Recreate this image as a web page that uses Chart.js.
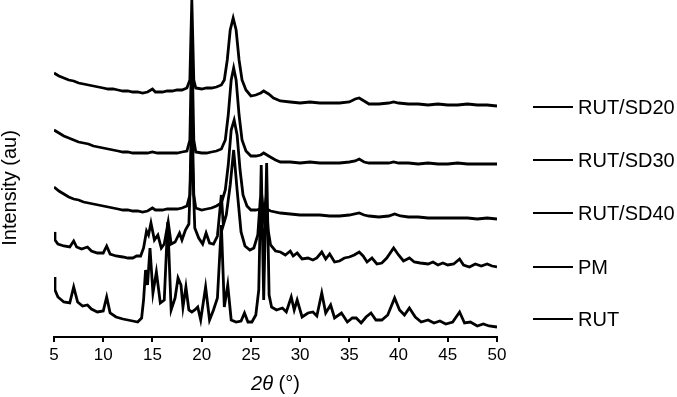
<!DOCTYPE html>
<html>
<head>
<meta charset="utf-8">
<script src="https://cdn.jsdelivr.net/npm/chart.js@4.4.1/dist/chart.umd.min.js"></script>
<style>
  html, body { margin: 0; padding: 0; background: #fff; }
  canvas { display: block; }
</style>
</head>
<body>
<canvas id="xrd" width="677" height="397"></canvas>
<script>
// series names, top to bottom
const seriesNames = ['RUT/SD20', 'RUT/SD30', 'RUT/SD40', 'PM', 'RUT'];
const xTicks = [5, 10, 15, 20, 25, 30, 35, 40, 45, 50];

// RUT/SD20
const sd20Angle = [5, 5.5, 6, 6.5, 7, 7.5, 8, 8.5, 9, 9.5, 10, 10.5, 11, 11.5, 12, 12.5, 13, 13.5, 14, 14.5, 15, 15.3, 16, 16.5, 17, 17.5, 18, 18.5, 18.8, 19.0, 19.2, 19.4, 20, 20.5, 21, 21.5, 22, 22.3, 22.6, 22.9, 23.2, 23.5, 23.8, 24.1, 24.5, 25, 25.5, 26, 26.3, 26.8, 27.3, 28, 29, 30, 31, 32, 33, 34, 35, 35.6, 36, 36.5, 37, 38, 39, 39.5, 40, 41, 42, 43, 44, 45, 46, 47, 48, 49, 50];
const sd20Int = [264, 261, 259, 257, 256, 254, 253, 252, 251, 250, 249, 248, 248, 247, 246, 246, 245, 245, 244, 245, 248, 245, 245, 246, 246, 247, 247, 249, 257, 337, 257, 249, 248, 249, 249, 250, 252, 257, 277, 307, 319, 307, 277, 257, 247, 241, 242, 244, 246, 243, 239, 236, 235, 234, 235, 234, 234, 234, 235, 238, 239, 236, 233, 233, 234, 235, 234, 233, 233, 232, 233, 232, 232, 233, 232, 232, 231];

// RUT/SD30
const sd30Angle = [5, 5.5, 6, 6.5, 7, 7.5, 8, 8.5, 9, 9.5, 10, 10.5, 11, 11.5, 12, 12.5, 13, 13.5, 14, 14.5, 15, 15.5, 16, 16.5, 17, 17.5, 18, 18.5, 18.8, 19.0, 19.2, 19.4, 20, 20.5, 21, 21.5, 22, 22.4, 22.7, 23.0, 23.25, 23.5, 23.8, 24.1, 24.5, 25, 25.5, 26, 26.3, 26.8, 27.5, 28, 29, 30, 31, 32, 33, 34, 35, 35.6, 36, 36.5, 37, 38, 39, 39.5, 40, 41, 42, 43, 44, 45, 46, 47, 48, 49, 50];
const sd30Int = [207, 204, 201, 199, 197, 195, 194, 193, 191, 190, 189, 188, 187, 186, 185, 185, 184, 184, 184, 184, 185, 184, 184, 184, 184, 184, 185, 186, 197, 297, 197, 185, 184, 184, 185, 186, 188, 197, 222, 257, 269, 257, 222, 197, 186, 181, 181, 182, 184, 181, 177, 175, 175, 174, 175, 174, 174, 174, 175, 176, 178, 175, 174, 174, 174, 175, 174, 174, 173, 174, 173, 173, 174, 173, 173, 173, 173];

// RUT/SD40
const sd40Angle = [5, 5.5, 6, 6.5, 7, 7.5, 8, 8.5, 9, 9.5, 10, 10.5, 11, 11.5, 12, 12.5, 13, 13.5, 14, 14.5, 15, 15.3, 16, 16.5, 17, 17.5, 18, 18.5, 18.8, 19.0, 19.2, 19.4, 20, 20.5, 21, 21.5, 22, 22.4, 22.7, 23.0, 23.3, 23.6, 23.9, 24.2, 24.6, 25, 25.5, 26, 26.4, 27, 28, 29, 30, 31, 32, 33, 34, 35, 36, 36.5, 37, 38, 39, 39.6, 40.2, 41, 42, 43, 44, 45, 46, 47, 48, 49, 50];
const sd40Int = [150, 146, 143, 140, 138, 137, 135, 134, 133, 132, 131, 130, 129, 128, 127, 127, 126, 126, 125, 126, 129, 127, 127, 128, 128, 128, 129, 131, 142, 237, 142, 129, 127, 128, 129, 131, 134, 147, 172, 207, 217, 202, 167, 142, 131, 127, 127, 128, 129, 126, 124, 123, 122, 122, 122, 121, 121, 122, 124, 122, 121, 120, 121, 123, 121, 120, 120, 119, 119, 119, 119, 119, 118, 119, 118];

// PM
const pmAngle = [5, 5.1, 5.4, 6, 6.6, 7.0, 7.3, 7.8, 8.4, 8.8, 9.4, 10.0, 10.35, 10.7, 11.3, 12, 12.5, 13, 13.4, 13.8, 14.1, 14.4, 14.6, 14.85, 15.2, 15.55, 15.9, 16.2, 16.6, 16.9, 17.3, 17.75, 18.0, 18.35, 18.7, 19.0, 19.3, 19.7, 20.1, 20.45, 20.8, 21.2, 21.6, 22.0, 22.2, 22.5, 22.9, 23.25, 23.6, 24.0, 24.4, 24.9, 25.3, 25.7, 25.95, 26.1, 26.3, 26.55, 26.75, 27.0, 27.5, 28.0, 28.5, 29.0, 29.3, 29.7, 30.2, 30.8, 31.3, 31.7, 32.2, 32.6, 33.0, 33.5, 34.0, 34.5, 35.0, 35.5, 36.0, 36.4, 36.8, 37.3, 37.8, 38.3, 38.8, 39.5, 40.0, 40.5, 41.1, 41.6, 42.2, 43.0, 43.5, 44.0, 44.5, 45.0, 45.6, 46.2, 46.6, 47.2, 47.8, 48.4, 49.0, 49.5, 50];
const pmInt = [105, 97, 93, 91, 90, 96, 90, 88, 90, 86, 84, 84, 91, 83, 81, 80, 79, 79, 81, 81, 89, 106, 102, 114, 97, 102, 89, 93, 115, 93, 95, 104, 97, 107, 113, 197, 109, 99, 93, 104, 94, 93, 101, 142, 112, 122, 152, 187, 147, 105, 91, 87, 89, 102, 137, 142, 122, 139, 107, 92, 86, 85, 82, 86, 81, 84, 78, 79, 77, 79, 85, 78, 83, 75, 76, 79, 80, 82, 85, 81, 75, 79, 73, 74, 79, 89, 82, 76, 79, 75, 74, 73, 75, 72, 74, 72, 73, 78, 72, 70, 73, 71, 73, 71, 70];

// RUT
const rutAngle = [5, 5.1, 5.4, 6, 6.6, 7.0, 7.4, 7.9, 8.4, 8.8, 9.4, 10.0, 10.35, 10.7, 11.3, 12, 12.5, 13, 13.5, 13.9, 14.1, 14.3, 14.5, 14.75, 15.05, 15.4, 15.8, 16.2, 16.55, 16.9, 17.3, 17.6, 17.9, 18.1, 18.4, 18.7, 19.0, 19.3, 19.6, 19.9, 20.4, 20.8, 21.2, 21.6, 22.0, 22.3, 22.65, 23.0, 23.5, 24.0, 24.35, 24.7, 25.1, 25.5, 25.8, 26.05, 26.3, 26.6, 26.85, 27.1, 27.6, 28.2, 28.6, 29.1, 29.4, 29.7, 30.2, 30.8, 31.3, 31.7, 32.2, 32.6, 33.1, 33.5, 34.2, 34.8, 35.3, 35.7, 36.2, 36.7, 37.2, 37.7, 38.3, 38.9, 39.6, 40.1, 40.6, 41.1, 41.7, 42.3, 43.0, 43.6, 44.2, 44.8, 45.5, 46.2, 46.7, 47.3, 48.0, 48.6, 49.2, 50];
const rutInt = [60, 47, 40, 35, 34, 50, 35, 31, 32, 28, 25, 26, 40, 24, 20, 18, 17, 16, 15, 19, 37, 67, 52, 89, 44, 65, 34, 37, 115, 27, 39, 59, 52, 30, 50, 27, 25, 27, 30, 17, 50, 17, 27, 39, 112, 30, 52, 17, 15, 16, 24, 15, 15, 22, 47, 172, 37, 174, 42, 30, 27, 29, 25, 40, 27, 37, 20, 24, 25, 21, 44, 24, 32, 19, 24, 15, 19, 19, 14, 20, 24, 17, 17, 22, 39, 27, 22, 29, 20, 15, 17, 14, 16, 13, 15, 25, 14, 15, 11, 13, 11, 10];

const angles = [sd20Angle, sd30Angle, sd40Angle, pmAngle, rutAngle];
const intensities = [sd20Int, sd30Int, sd40Int, pmInt, rutInt];
// where each side label sits, in intensity units
const labelLevels = [230, 177, 124, 70, 18];

const FONT = "'Liberation Sans', Arial, Helvetica, sans-serif";

const sideText = {
  id: 'sideText',
  afterDraw(chart) {
    const ctx = chart.ctx;
    const area = chart.chartArea;
    const y = chart.scales.y;
    ctx.save();
    ctx.fillStyle = '#000';
    ctx.strokeStyle = '#000';
    // labels on the right
    ctx.font = '20px ' + FONT;
    ctx.textBaseline = 'middle';
    ctx.lineWidth = 2;
    seriesNames.forEach((name, i) => {
      const py = Math.round(y.getPixelForValue(labelLevels[i]));
      ctx.beginPath();
      ctx.moveTo(area.right + 36, py);
      ctx.lineTo(area.right + 76, py);
      ctx.stroke();
      ctx.fillText(name, area.right + 81, py + 1);
    });
    // x title: 2θ (°)
    ctx.textBaseline = 'alphabetic';
    const italic = 'italic 20px ' + FONT;
    const normal = '20px ' + FONT;
    ctx.font = italic;
    const w1 = ctx.measureText('2θ').width;
    ctx.font = normal;
    const w2 = ctx.measureText(' (°)').width;
    let x0 = (area.left + area.right) / 2 - (w1 + w2) / 2;
    ctx.font = italic;
    ctx.fillText('2θ', x0, 390);
    ctx.font = normal;
    ctx.fillText(' (°)', x0 + w1, 390);
    // y title
    ctx.translate(16, 188);
    ctx.rotate(-Math.PI / 2);
    ctx.textAlign = 'center';
    ctx.font = '20px ' + FONT;
    ctx.fillText('Intensity (au)', 0, 0);
    ctx.restore();
  }
};

new Chart(document.getElementById('xrd'), {
  type: 'line',
  data: {
    datasets: seriesNames.map((name, i) => ({
      label: name,
      data: angles[i].map((a, j) => ({ x: a, y: intensities[i][j] })),
      borderColor: '#000',
      borderWidth: 2.8,
      pointRadius: 0,
      tension: 0,
      fill: false
    }))
  },
  options: {
    responsive: false,
    animation: false,
    devicePixelRatio: 1,
    layout: { padding: { left: 54, right: 180, top: 0, bottom: 0 } },
    scales: {
      x: {
        type: 'linear',
        min: 5,
        max: 50,
        afterBuildTicks: s => { s.ticks = xTicks.map(v => ({ value: v })); },
        afterFit: s => { s.height = 60; },
        ticks: { color: '#000', padding: 3, font: { family: FONT, size: 17 }, maxRotation: 0 },
        grid: { drawOnChartArea: false, tickLength: 5, color: '#000', lineWidth: 2 },
        border: { color: '#000', width: 2 }
      },
      y: { display: false, min: 0, max: 337 }
    },
    plugins: { legend: { display: false }, tooltip: { enabled: false } }
  },
  plugins: [sideText]
});
</script>
</body>
</html>
